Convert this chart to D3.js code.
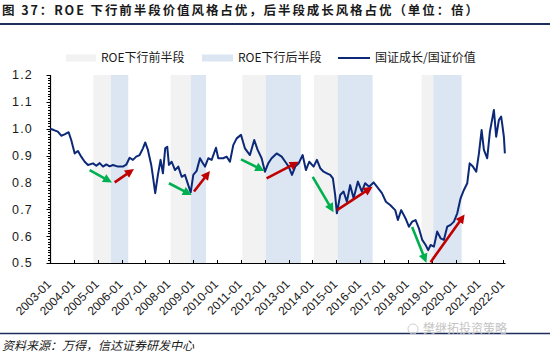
<!DOCTYPE html>
<html>
<head>
<meta charset="utf-8">
<script src="https://cdn.jsdelivr.net/npm/d3@7"></script>
<style>
  html, body { margin: 0; padding: 0; background: #fff; }
  svg { display: block; font-family: "Liberation Sans", Arial, "Noto Sans CJK SC", sans-serif; }
</style>
</head>
<body>
<svg id="chart" width="550" height="354"></svg>
<script>
// ─── Data ────────────────────────────────────────────────────────────────────

const titleText = "图 37：ROE 下行前半段价值风格占优，后半段成长风格占优（单位：倍）";
const sourceText = "资料来源：万得，信达证券研发中心";
const watermarkText = "樊继拓投资策略";
const legendLabels = ["ROE下行前半段", "ROE下行后半段", "国证成长/国证价值"];
const yTicks = [0.5, 0.6, 0.7, 0.8, 0.9, 1.0, 1.1, 1.2];

// [date, growth / value]
const ratioSeries = [
    ["2003-01-01", 1.000], ["2003-03-01", 0.995], ["2003-05-01", 0.989], ["2003-06-22", 0.974],
    ["2003-08-13", 0.979], ["2003-10-13", 0.987], ["2003-11-22", 0.958], ["2004-01-14", 0.908],
    ["2004-03-04", 0.917], ["2004-04-23", 0.896], ["2004-06-15", 0.877], ["2004-08-05", 0.865],
    ["2004-10-21", 0.871], ["2004-12-10", 0.862], ["2005-01-31", 0.872], ["2005-03-23", 0.859],
    ["2005-05-12", 0.867], ["2005-07-02", 0.860], ["2005-08-22", 0.865], ["2005-11-07", 0.859],
    ["2006-01-22", 0.859], ["2006-03-13", 0.866], ["2006-05-04", 0.892], ["2006-06-24", 0.884],
    ["2006-08-13", 0.896], ["2006-10-04", 0.902], ["2006-11-24", 0.927], ["2006-12-29", 0.949],
    ["2007-02-08", 0.921], ["2007-03-31", 0.865], ["2007-04-30", 0.815], ["2007-05-31", 0.760],
    ["2007-07-11", 0.828], ["2007-08-21", 0.884], ["2007-09-26", 0.834], ["2007-10-31", 0.927],
    ["2007-12-01", 0.933], ["2007-12-27", 0.865], ["2008-02-07", 0.877], ["2008-03-29", 0.846],
    ["2008-05-18", 0.859], ["2008-07-09", 0.821], ["2008-08-28", 0.828], ["2008-10-18", 0.790],
    ["2008-11-24", 0.763], ["2009-01-03", 0.828], ["2009-02-23", 0.843], ["2009-04-15", 0.890],
    ["2009-05-20", 0.875], ["2009-07-01", 0.859], ["2009-08-20", 0.890], ["2009-10-11", 0.884],
    ["2009-12-16", 0.929], ["2010-01-20", 0.890], ["2010-04-06", 0.890], ["2010-05-28", 0.896],
    ["2010-07-18", 0.877], ["2010-09-07", 0.939], ["2010-10-29", 0.964], ["2011-01-03", 0.977],
    ["2011-03-04", 0.927], ["2011-05-20", 0.902], ["2011-07-25", 0.958], ["2011-09-15", 0.921],
    ["2011-11-15", 0.890], ["2012-01-05", 0.840], ["2012-02-24", 0.871], ["2012-04-16", 0.890],
    ["2012-07-02", 0.908], ["2012-09-17", 0.896], ["2012-11-11", 0.877], ["2013-01-02", 0.859],
    ["2013-02-22", 0.828], ["2013-04-13", 0.859], ["2013-06-04", 0.871], ["2013-08-04", 0.902],
    ["2013-09-23", 0.846], ["2013-11-13", 0.877], ["2014-01-19", 0.859], ["2014-03-10", 0.884],
    ["2014-04-30", 0.853], ["2014-06-21", 0.840], ["2014-08-10", 0.834], ["2014-09-30", 0.828],
    ["2014-11-10", 0.815], ["2014-12-15", 0.753], ["2015-01-10", 0.685], ["2015-03-02", 0.753],
    ["2015-04-22", 0.766], ["2015-06-12", 0.728], ["2015-08-01", 0.790], ["2015-09-23", 0.741],
    ["2015-11-28", 0.803], ["2016-01-28", 0.766], ["2016-03-18", 0.797], ["2016-05-18", 0.784],
    ["2016-07-25", 0.800], ["2016-09-14", 0.784], ["2016-11-30", 0.760], ["2017-01-30", 0.728],
    ["2017-04-05", 0.716], ["2017-06-21", 0.697], ["2017-08-01", 0.660], ["2017-09-21", 0.697],
    ["2017-11-27", 0.666], ["2018-01-17", 0.635], ["2018-03-08", 0.654], ["2018-04-29", 0.660],
    ["2018-06-19", 0.629], ["2018-08-09", 0.586], ["2018-09-30", 0.567], ["2018-11-08", 0.548],
    ["2018-12-15", 0.567], ["2019-02-04", 0.561], ["2019-03-26", 0.617], ["2019-05-17", 0.592],
    ["2019-07-06", 0.586], ["2019-08-26", 0.635], ["2019-10-17", 0.642], ["2019-12-07", 0.654],
    ["2020-01-27", 0.685], ["2020-03-18", 0.741], ["2020-05-08", 0.772], ["2020-06-28", 0.797],
    ["2020-08-04", 0.871], ["2020-09-23", 0.859], ["2020-11-13", 0.840], ["2020-12-24", 0.908],
    ["2021-02-03", 0.995], ["2021-03-10", 0.921], ["2021-04-30", 0.890], ["2021-06-10", 0.989],
    ["2021-08-10", 1.070], ["2021-09-14", 0.970], ["2021-10-25", 1.032], ["2021-11-29", 1.045],
    ["2021-12-14", 1.020], ["2022-01-10", 0.970], ["2022-01-25", 0.908]
];

// ROE down-cycles: [first half start, second half start, second half end]
const roePhases = [
    ["2004-10-25", "2005-07-23", "2006-04-13"],
    ["2008-01-22", "2008-11-28", "2009-07-16"],
    ["2011-01-23", "2012-01-20", "2013-07-08"],
    ["2014-01-24", "2015-01-22", "2016-07-10"],
    ["2018-07-30", "2019-01-24", "2020-04-03"]
];

// Annotation arrows: [from date, from value, to date, to value, kind]
const trendArrows = [
    ["2004-08-30", 0.846, "2005-08-07", 0.800, "down"],
    ["2005-09-17", 0.800, "2006-07-09", 0.850, "up"],
    ["2007-12-27", 0.797, "2008-12-09", 0.753, "down"],
    ["2009-01-14", 0.766, "2009-09-15", 0.843, "up"],
    ["2011-01-03", 0.886, "2011-12-25", 0.843, "down"],
    ["2012-01-30", 0.815, "2013-06-04", 0.877, "up"],
    ["2014-01-05", 0.821, "2014-11-20", 0.689, "down"],
    ["2015-01-12", 0.697, "2016-07-10", 0.784, "up"],
    ["2018-03-07", 0.634, "2018-10-12", 0.501, "down"],
    ["2018-12-15", 0.503, "2020-05-19", 0.681, "up"]
];

// ─── Setup ───────────────────────────────────────────────────────────────────

const parseDate = d3.timeParse("%Y-%m-%d");
const COLORS = {
    firstHalf: "#f2f2f2",
    secondHalf: "#dce6f2",
    line: "#0c2878",
    down: "#00b050",
    up: "#c00000",
    text: "#1a1a1a",
    rule: "#1f2f5c"
};

const svg = d3.select("#chart");

const x = d3.scaleTime()
    .domain([parseDate("2003-01-01"), parseDate("2022-01-01")])
    .range([50, 503.3]);
const y = d3.scaleLinear()
    .domain([0.5, 1.2])
    .range([263, 75]);

// ─── Title & footer ──────────────────────────────────────────────────────────

svg.append("text")
    .attr("x", 2).attr("y", 15)
    .attr("font-family", "'Noto Sans CJK SC', sans-serif")
    .attr("font-size", 12.5)
    .attr("font-weight", "bold")
    .attr("fill", COLORS.text)
    .attr("textLength", 476)
    .attr("lengthAdjust", "spacing")
    .text(titleText);

svg.append("line")
    .attr("x1", 0).attr("x2", 550)
    .attr("y1", 24).attr("y2", 24)
    .attr("stroke", COLORS.rule)
    .attr("stroke-width", 2);

svg.append("line")
    .attr("x1", 0).attr("x2", 550)
    .attr("y1", 333.5).attr("y2", 333.5)
    .attr("stroke", COLORS.rule)
    .attr("stroke-width", 1.5);

svg.append("text")
    .attr("x", 423).attr("y", 333)
    .attr("font-family", "'Noto Sans CJK SC', sans-serif")
    .attr("font-size", 12)
    .attr("fill", "#c4c4c4")
    .text(watermarkText);

svg.append("circle")
    .attr("cx", 413).attr("cy", 329)
    .attr("r", 5)
    .attr("fill", "none")
    .attr("stroke", "#cfcfcf")
    .attr("stroke-width", 1);

svg.append("text")
    .attr("x", 2).attr("y", 350)
    .attr("font-family", "'Noto Sans CJK SC', sans-serif")
    .attr("font-size", 12)
    .attr("font-style", "italic")
    .attr("fill", COLORS.text)
    .text(sourceText);

// ─── Legend ──────────────────────────────────────────────────────────────────

const legendY = 58;
const legend = svg.append("g").attr("font-family", "'Noto Sans CJK SC', sans-serif")
    .attr("font-size", 12).attr("fill", COLORS.text);

legend.append("rect").attr("x", 66).attr("y", legendY - 3.5).attr("width", 30).attr("height", 7)
    .attr("fill", COLORS.firstHalf);
legend.append("text").attr("x", 101).attr("y", legendY).attr("dy", "0.35em").text(legendLabels[0]);

legend.append("rect").attr("x", 202).attr("y", legendY - 3.5).attr("width", 31).attr("height", 7)
    .attr("fill", COLORS.secondHalf);
legend.append("text").attr("x", 238).attr("y", legendY).attr("dy", "0.35em").text(legendLabels[1]);

legend.append("line").attr("x1", 338).attr("x2", 370).attr("y1", legendY).attr("y2", legendY)
    .attr("stroke", COLORS.line).attr("stroke-width", 2);
legend.append("text").attr("x", 375).attr("y", legendY).attr("dy", "0.35em").text(legendLabels[2]);

// ─── Shaded ROE phases ───────────────────────────────────────────────────────

const phases = svg.append("g");
roePhases.forEach(([a, b, c]) => {
    const xa = x(parseDate(a)), xb = x(parseDate(b)), xc = x(parseDate(c));
    phases.append("rect")
        .attr("x", xa).attr("y", y(1.2))
        .attr("width", xb - xa).attr("height", y(0.5) - y(1.2))
        .attr("fill", COLORS.firstHalf);
    phases.append("rect")
        .attr("x", xb).attr("y", y(1.2))
        .attr("width", xc - xb).attr("height", y(0.5) - y(1.2))
        .attr("fill", COLORS.secondHalf);
});

// ─── Axes ────────────────────────────────────────────────────────────────────

const axes = svg.append("g").attr("stroke", "#000");

// y axis with dense minor ticks
axes.append("line")
    .attr("x1", 50.5).attr("x2", 50.5)
    .attr("y1", y(1.2)).attr("y2", y(0.5))
    .attr("stroke-width", 1.2);
d3.range(50, 121).forEach(i => {
    const v = i / 100;
    const major = i % 10 === 0;
    axes.append("line")
        .attr("x1", major ? 46.5 : 48).attr("x2", 50.5)
        .attr("y1", Math.round(y(v)) + 0.5).attr("y2", Math.round(y(v)) + 0.5)
        .attr("stroke-width", 1);
});

svg.append("g")
    .attr("font-size", 12.5)
    .attr("fill", COLORS.text)
    .attr("text-anchor", "end")
    .selectAll("text")
    .data(yTicks)
    .join("text")
    .attr("x", 33)
    .attr("y", d => y(d))
    .attr("dy", "0.35em")
    .attr("letter-spacing", 1.2)
    .text(d => d.toFixed(1));

// x axis
const xTicks = d3.timeYear.range(parseDate("2003-01-01"), parseDate("2022-06-01"));
axes.append("line")
    .attr("x1", 50).attr("x2", 505.5)
    .attr("y1", 263.5).attr("y2", 263.5)
    .attr("stroke-width", 1.2);
xTicks.forEach(t => {
    axes.append("line")
        .attr("x1", Math.round(x(t)) + 0.5).attr("x2", Math.round(x(t)) + 0.5)
        .attr("y1", 260).attr("y2", 263.5)
        .attr("stroke-width", 1);
});

const fmt = d3.timeFormat("%Y-%m");
svg.append("g")
    .attr("font-size", 12)
    .attr("fill", COLORS.text)
    .attr("text-anchor", "end")
    .selectAll("text")
    .data(xTicks)
    .join("text")
    .attr("transform", d => `translate(${x(d) - 1},${282}) rotate(-45)`)
    .attr("dy", "0.35em")
    .text(d => fmt(d));

// ─── Series line ─────────────────────────────────────────────────────────────

const line = d3.line()
    .x(d => x(parseDate(d[0])))
    .y(d => y(d[1]));

svg.append("path")
    .datum(ratioSeries)
    .attr("fill", "none")
    .attr("stroke", COLORS.line)
    .attr("stroke-width", 2)
    .attr("stroke-linejoin", "round")
    .attr("d", line);

// ─── Arrows ──────────────────────────────────────────────────────────────────

const headLen = 9, headHalf = 4.5;
const arrows = svg.append("g");
trendArrows.forEach(([d0, v0, d1, v1, kind]) => {
    const color = kind === "up" ? COLORS.up : COLORS.down;
    const x0 = x(parseDate(d0)), y0 = y(v0);
    const x1 = x(parseDate(d1)), y1 = y(v1);
    const len = Math.hypot(x1 - x0, y1 - y0);
    const ux = (x1 - x0) / len, uy = (y1 - y0) / len;
    const bx = x1 - ux * headLen, by = y1 - uy * headLen;

    arrows.append("line")
        .attr("x1", x0).attr("y1", y0)
        .attr("x2", bx + ux).attr("y2", by + uy)
        .attr("stroke", color)
        .attr("stroke-width", 2.6);

    arrows.append("path")
        .attr("d", `M${x1},${y1}L${bx - uy * headHalf},${by + ux * headHalf}L${bx + uy * headHalf},${by - ux * headHalf}Z`)
        .attr("fill", color);
});
</script>
</body>
</html>
